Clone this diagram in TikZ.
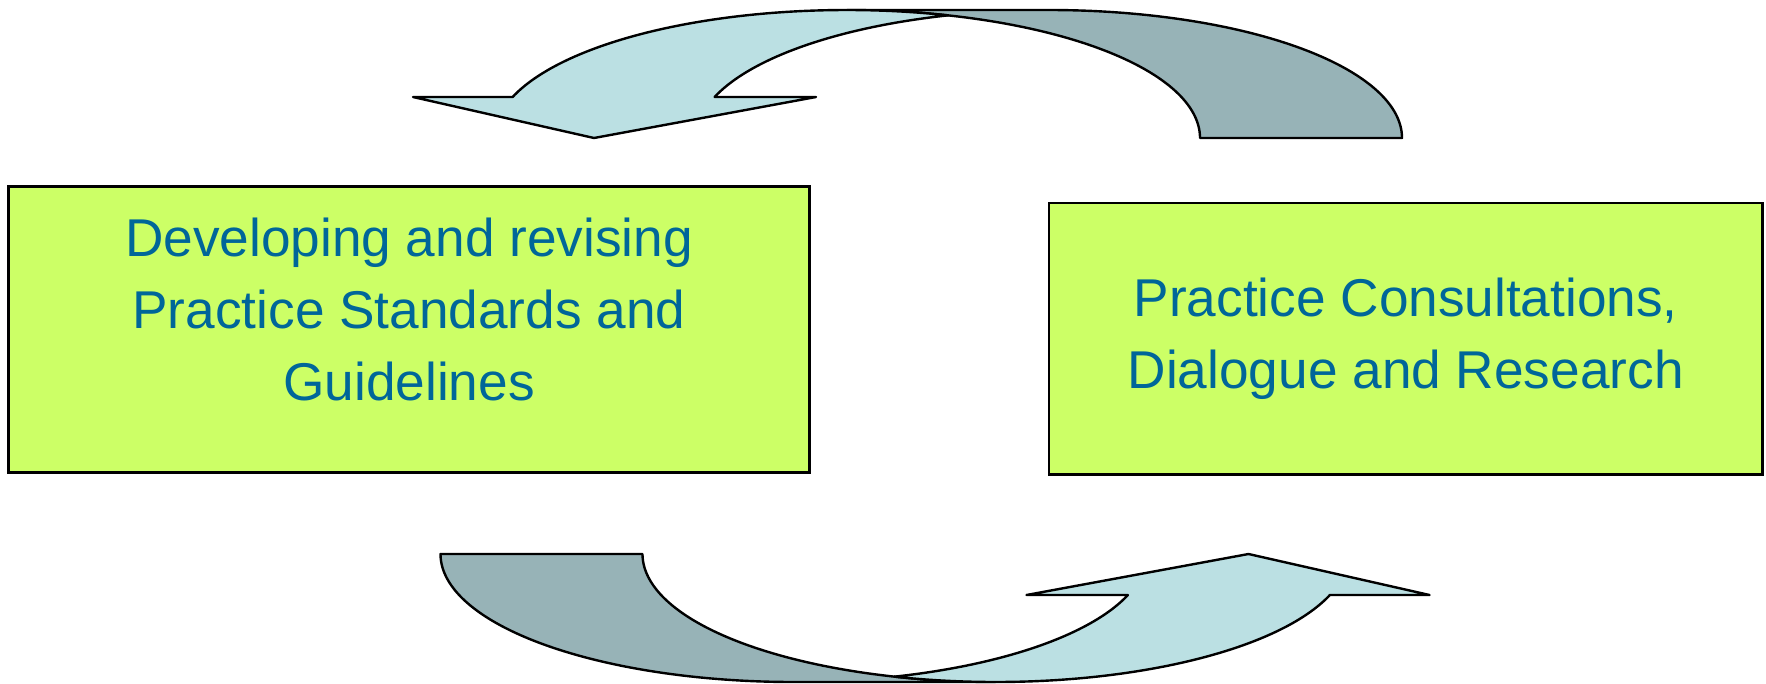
\documentclass[tikz,border=0pt]{standalone}
\usepackage{fontspec}
\setmainfont{Liberation Sans}
\definecolor{boxfill}{HTML}{CCFF66}
\definecolor{boxtext}{HTML}{006699}
\definecolor{arrowlight}{HTML}{BBE0E3}
\definecolor{arrowdark}{HTML}{97B3B7}
\tikzset{
  box/.style={draw=black, line width=2.2pt, fill=boxfill, inner sep=0pt},
  boxlabel/.style={text=boxtext, align=center, font=\fontsize{53.2}{71.7}\selectfont, inner sep=0pt},
  bandfront/.style={fill=arrowlight, draw=black, line width=2.4pt, line join=round},
  bandback/.style={fill=arrowdark, draw=black, line width=2.4pt, line join=round},
}
\newcommand\cyclearrow{%
  \path[bandback] plot[domain=90:0,samples=90] ({1049+353*cos(\x)},{138-128*sin(\x)})
     -- (1200,138)
     -- plot[domain=0:90,samples=90] ({847+353*cos(\x)},{138-128*sin(\x)}) -- cycle;
  \path[bandfront] (413,97) -- (512.6,97)
     -- plot[domain=161.3:73.4,samples=90] ({847+353*cos(\x)},{138-128*sin(\x)})
     -- plot[domain=106.6:161.3,samples=90] ({1049+353*cos(\x)},{138-128*sin(\x)})
     -- (816,97) -- (594,138) -- cycle;
}
\begin{document}
\begin{tikzpicture}[x=1pt,y=-1pt]
\useasboundingbox (0,0) rectangle (1766,683);
% top cycle arrow
\begin{scope}
  \cyclearrow
\end{scope}
% bottom cycle arrow (same shape turned half way round)
\begin{scope}[rotate around={180:(921.25,346)}]
  \cyclearrow
\end{scope}
% boxes
\node[box, minimum width=801pt, minimum height=286pt] (dev) at (409,329.5) {};
\node[boxlabel] (devtext) at (409,309.4) {Developing and revising\\Practice Standards and\\Guidelines};
\node[box, minimum width=713.5pt, minimum height=271.5pt] (cons) at (1405.75,338.75) {};
\node[boxlabel] (constext) at (cons.center) {Practice Consultations,\\Dialogue and Research};
\end{tikzpicture}
\end{document}
